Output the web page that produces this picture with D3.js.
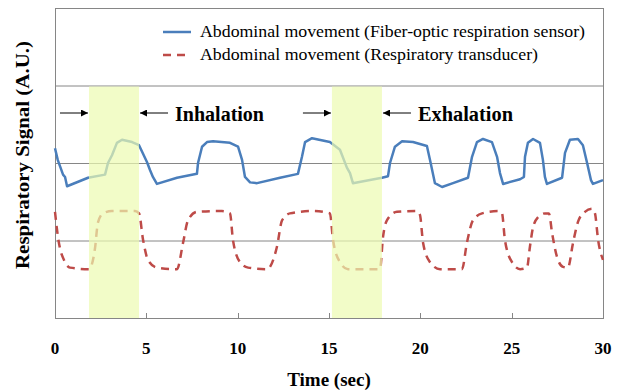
<!DOCTYPE html>
<html>
<head>
<meta charset="utf-8">
<script src="https://cdn.jsdelivr.net/npm/d3@7"></script>
<style>
  body { margin: 0; background: #fff; }
  text { font-family: "Liberation Serif", "Times New Roman", serif; }
</style>
</head>
<body>
<div id="chart"></div>
<script>
// time (sec) / signal (A.U.)
const fiberTime = [0, 0.15, 0.44, 0.55, 0.66, 1.81, 2.74, 2.90, 3.12, 3.39, 3.67, 4.22, 4.60, 5.04, 5.20, 5.36, 5.58,
  6.68, 7.77, 7.83, 8.05, 8.32, 8.65, 9.58, 10.02, 10.24, 10.40, 10.68, 11.06, 12.32, 13.30, 13.52, 13.69, 14.07,
  15.05, 15.60, 15.98, 16.15, 16.31, 17.24, 17.90, 18.23, 18.34, 18.61, 19.00, 19.60, 20.36, 20.53, 20.80, 21.19,
  21.79, 22.61, 22.83, 23.10, 23.43, 23.92, 24.20, 24.36, 24.53, 25.46, 25.67, 25.73, 25.89, 26.17, 26.55, 26.71,
  26.82, 26.93, 27.76, 27.92, 28.19, 28.63, 28.90, 29.12, 29.34, 29.45, 30.00];
const fiberSignal = [2.19, 2.04, 1.85, 1.82, 1.70, 1.81, 1.85, 2.00, 2.10, 2.26, 2.30, 2.27, 2.23, 2.01, 1.91, 1.82, 1.73,
  1.81, 1.86, 2.00, 2.21, 2.27, 2.28, 2.26, 2.21, 2.04, 1.82, 1.75, 1.74, 1.81, 1.86, 2.08, 2.27, 2.32,
  2.27, 2.17, 1.94, 1.87, 1.74, 1.78, 1.81, 1.83, 2.00, 2.21, 2.28, 2.27, 2.22, 2.04, 1.74, 1.69,
  1.74, 1.81, 2.08, 2.27, 2.31, 2.27, 2.08, 1.87, 1.73, 1.79, 1.82, 2.08, 2.26, 2.31, 2.26, 2.04,
  1.82, 1.73, 1.81, 2.13, 2.30, 2.31, 2.23, 2.01, 1.78, 1.73, 1.78];

const beltTime = [0, 0.16, 0.55, 0.82, 1.86, 2.19, 2.35, 2.63, 3.12, 4.38, 4.60, 4.82, 5.09, 5.58, 6.68, 7.01, 7.28,
  7.77, 9.14, 9.58, 9.74, 10.13, 10.57, 11.61, 12.15, 12.43, 12.86, 14.12, 15.05, 15.22, 15.60, 16.04, 17.79,
  17.96, 18.17, 18.72, 19.82, 19.98, 20.15, 20.53, 21.08, 22.28, 22.55, 22.88, 23.38, 24.25, 24.47, 24.63, 25.02,
  25.46, 25.84, 26.00, 26.17, 26.44, 26.82, 27.04, 27.21, 27.48, 27.81, 28.08, 28.36, 28.63, 29.01, 29.40, 29.56,
  29.73, 30.00];
const beltSignal = [1.37, 1.05, 0.72, 0.65, 0.63, 0.90, 1.23, 1.35, 1.38, 1.38, 1.35, 1.01, 0.75, 0.65, 0.63, 0.97, 1.26,
  1.37, 1.38, 1.35, 1.01, 0.72, 0.65, 0.63, 0.92, 1.26, 1.35, 1.38, 1.35, 1.01, 0.72, 0.63, 0.63,
  1.05, 1.26, 1.37, 1.38, 1.33, 0.97, 0.72, 0.63, 0.63, 0.97, 1.26, 1.35, 1.38, 1.35, 1.01, 0.72,
  0.63, 0.65, 0.92, 1.17, 1.30, 1.35, 1.35, 1.10, 0.79, 0.66, 0.65, 0.97, 1.24, 1.37, 1.41, 1.35,
  1.01, 0.75];

const seriesNames = ["Abdominal movement (Fiber-optic respiration sensor)", "Abdominal movement (Respiratory transducer)"];
const xTicks = [0, 5, 10, 15, 20, 25, 30];
const yGrid = [1, 2, 3];
const bandStart = [1.86, 15.16];
const bandEnd = [4.6, 17.9];
const bandLabels = ["Inhalation", "Exhalation"];

const W = 626, H = 391;
const m = { left: 55, right: 603, top: 8, bottom: 318 };

const svg = d3.select("#chart").append("svg")
  .attr("width", W).attr("height", H);

const x = d3.scaleLinear().domain([0, 30]).range([m.left, m.right]);
const y = d3.scaleLinear().domain([0, 4]).range([m.bottom, m.top]);

// gridlines + frame
svg.append("g").selectAll("line").data(yGrid).join("line")
  .attr("x1", m.left).attr("x2", m.right)
  .attr("y1", d => y(d) + 0.5).attr("y2", d => y(d) + 0.5)
  .attr("stroke", "#868686").attr("stroke-width", 1);

svg.append("rect")
  .attr("x", m.left + 0.5).attr("y", m.top + 0.5)
  .attr("width", m.right - m.left).attr("height", m.bottom - m.top)
  .attr("fill", "none").attr("stroke", "#868686");

// x axis ticks (inside) and labels
svg.append("g").selectAll("line").data(xTicks.slice(1, -1)).join("line")
  .attr("x1", d => Math.round(x(d)) + 0.5).attr("x2", d => Math.round(x(d)) + 0.5)
  .attr("y1", m.bottom).attr("y2", m.bottom - 5)
  .attr("stroke", "#868686");

svg.append("g").selectAll("text").data(xTicks).join("text")
  .attr("x", d => x(d)).attr("y", 354)
  .attr("text-anchor", "middle")
  .attr("font-size", 17).attr("font-weight", "bold")
  .text(d => d);

svg.append("text")
  .attr("x", (m.left + m.right) / 2).attr("y", 386)
  .attr("text-anchor", "middle")
  .attr("font-size", 19).attr("font-weight", "bold")
  .text("Time (sec)");

svg.append("text")
  .attr("transform", "translate(29," + 155 + ") rotate(-90)")
  .attr("text-anchor", "middle")
  .attr("font-size", 19).attr("font-weight", "bold")
  .attr("textLength", 228).attr("lengthAdjust", "spacingAndGlyphs")
  .text("Respiratory Signal (A.U.)");

// series
const fiber = fiberTime.map((t, i) => [t, fiberSignal[i]]);
const belt = beltTime.map((t, i) => [t, beltSignal[i]]);

const line = d3.line().x(d => x(d[0])).y(d => y(d[1]));
const smooth = d3.line().curve(d3.curveMonotoneX).x(d => x(d[0])).y(d => y(d[1]));

svg.append("path").datum(fiber)
  .attr("d", line)
  .attr("fill", "none").attr("stroke", "#4a7ebb")
  .attr("stroke-width", 2.5).attr("stroke-linejoin", "round");

svg.append("path").datum(belt)
  .attr("d", smooth)
  .attr("fill", "none").attr("stroke", "#be4b48")
  .attr("stroke-width", 2.5).attr("stroke-dasharray", "8,6");

// shaded phases on top
svg.append("g").selectAll("rect").data(bandStart).join("rect")
  .attr("x", d => x(d))
  .attr("width", (d, i) => x(bandEnd[i]) - x(d))
  .attr("y", y(3) + 1).attr("height", m.bottom - y(3) - 1)
  .attr("fill", "rgb(236,251,176)").attr("fill-opacity", 0.7);

// arrows + labels
svg.append("defs").append("marker")
  .attr("id", "ah").attr("viewBox", "0 0 10 10")
  .attr("refX", 10).attr("refY", 5)
  .attr("markerWidth", 7).attr("markerHeight", 7)
  .attr("markerUnits", "userSpaceOnUse")
  .attr("orient", "auto")
  .append("path").attr("d", "M0,0L10,5L0,10z").attr("fill", "#000");

const ay = 113;
bandStart.forEach((s, i) => {
  const x0 = x(s), x1 = x(bandEnd[i]);
  svg.append("line")
    .attr("x1", x0 - 29).attr("x2", x0 - 1)
    .attr("y1", ay).attr("y2", ay)
    .attr("stroke", "#000").attr("stroke-width", 1)
    .attr("marker-end", "url(#ah)");
  svg.append("line")
    .attr("x1", x1 + 29).attr("x2", x1 + 1)
    .attr("y1", ay).attr("y2", ay)
    .attr("stroke", "#000").attr("stroke-width", 1)
    .attr("marker-end", "url(#ah)");
  svg.append("text")
    .attr("x", x1 + 36).attr("y", 121)
    .attr("font-size", 20).attr("font-weight", "bold")
    .attr("textLength", i ? 95 : 89).attr("lengthAdjust", "spacingAndGlyphs")
    .text(bandLabels[i]);
});

// legend
const legend = svg.append("g");
[0, 1].forEach(i => {
  const ly = 32 + i * 23;
  legend.append("line")
    .attr("x1", 163).attr("x2", 191)
    .attr("y1", ly).attr("y2", ly)
    .attr("stroke", i ? "#be4b48" : "#4a7ebb")
    .attr("stroke-width", 2.5)
    .attr("stroke-dasharray", i ? "8,6" : null);
  legend.append("text")
    .attr("x", 200).attr("y", ly + 5)
    .attr("font-size", 17)
    .attr("textLength", i ? 338 : 385).attr("lengthAdjust", "spacingAndGlyphs")
    .text(seriesNames[i]);
});
</script>
</body>
</html>
